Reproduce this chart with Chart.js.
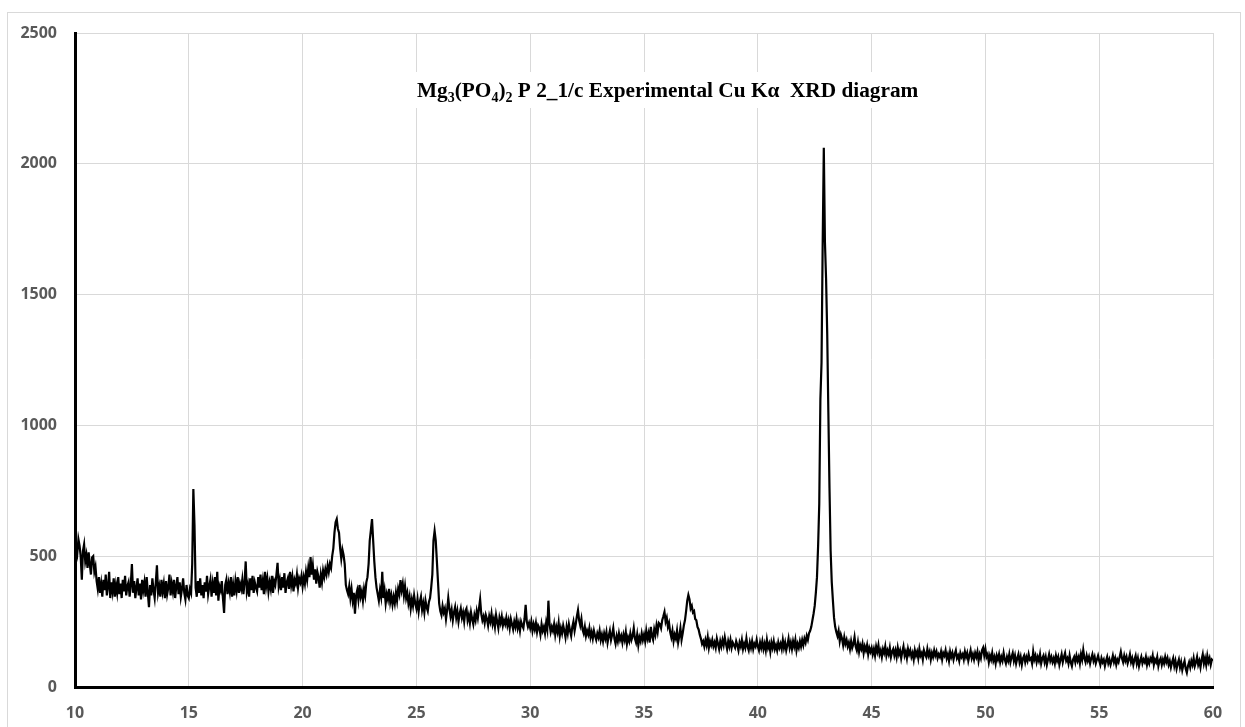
<!DOCTYPE html>
<html>
<head>
<meta charset="utf-8">
<script src="https://cdn.jsdelivr.net/npm/chart.js@4.4.1/dist/chart.umd.min.js"></script>
<style>
  html, body { margin: 0; padding: 0; background: #ffffff; }
  #wrap { width: 1245px; height: 727px; position: relative; }
</style>
</head>
<body>
<div id="wrap"><canvas id="c" width="1245" height="727"></canvas></div>
<script>
// ---- data ----
const xTickValues = [10, 15, 20, 25, 30, 35, 40, 45, 50, 55, 60];
const yTickValues = [0, 500, 1000, 1500, 2000, 2500];
const titleParts = [
  { text: 'Mg' }, { text: '3', sub: true }, { text: '(PO' }, { text: '4', sub: true },
  { text: ')' }, { text: '2', sub: true }, { text: ' P 2_1/c Experimental Cu K\u03B1  XRD diagram' }
];

// 2θ (degrees)
const twoTheta = [
  10,10.05,10.1,10.15,10.2,10.25,10.3,10.35,10.4,10.45,10.5,10.55,10.6,10.65,10.7,10.75,10.8,10.85,10.9,10.95,
  11,11.05,11.1,11.15,11.2,11.25,11.3,11.35,11.4,11.45,11.5,11.55,11.6,11.65,11.7,11.75,11.8,11.85,11.9,11.95,
  12,12.05,12.1,12.15,12.2,12.25,12.3,12.35,12.4,12.45,12.5,12.55,12.6,12.65,12.7,12.75,12.8,12.85,12.9,12.95,
  13,13.05,13.1,13.15,13.2,13.25,13.3,13.35,13.4,13.45,13.5,13.55,13.6,13.65,13.7,13.75,13.8,13.85,13.9,13.95,
  14,14.05,14.1,14.15,14.2,14.25,14.3,14.35,14.4,14.45,14.5,14.55,14.6,14.65,14.7,14.75,14.8,14.85,14.9,14.95,
  15,15.05,15.1,15.15,15.2,15.25,15.3,15.35,15.4,15.45,15.5,15.55,15.6,15.65,15.7,15.75,15.8,15.85,15.9,15.95,
  16,16.05,16.1,16.15,16.2,16.25,16.3,16.35,16.4,16.45,16.5,16.55,16.6,16.65,16.7,16.75,16.8,16.85,16.9,16.95,
  17,17.05,17.1,17.15,17.2,17.25,17.3,17.35,17.4,17.45,17.5,17.55,17.6,17.65,17.7,17.75,17.8,17.85,17.9,17.95,
  18,18.05,18.1,18.15,18.2,18.25,18.3,18.35,18.4,18.45,18.5,18.55,18.6,18.65,18.7,18.75,18.8,18.85,18.9,18.95,
  19,19.05,19.1,19.15,19.2,19.25,19.3,19.35,19.4,19.45,19.5,19.55,19.6,19.65,19.7,19.75,19.8,19.85,19.9,19.95,
  20,20.05,20.1,20.15,20.2,20.25,20.3,20.35,20.4,20.45,20.5,20.55,20.6,20.65,20.7,20.75,20.8,20.85,20.9,20.95,
  21,21.05,21.1,21.15,21.2,21.25,21.3,21.35,21.4,21.45,21.5,21.55,21.6,21.65,21.7,21.75,21.8,21.85,21.9,21.95,
  22,22.05,22.1,22.15,22.2,22.25,22.3,22.35,22.4,22.45,22.5,22.55,22.6,22.65,22.7,22.75,22.8,22.85,22.9,22.95,
  23,23.05,23.1,23.15,23.2,23.25,23.3,23.35,23.4,23.45,23.5,23.55,23.6,23.65,23.7,23.75,23.8,23.85,23.9,23.95,
  24,24.05,24.1,24.15,24.2,24.25,24.3,24.35,24.4,24.45,24.5,24.55,24.6,24.65,24.7,24.75,24.8,24.85,24.9,24.95,
  25,25.05,25.1,25.15,25.2,25.25,25.3,25.35,25.4,25.45,25.5,25.55,25.6,25.65,25.7,25.75,25.8,25.85,25.9,25.95,
  26,26.05,26.1,26.15,26.2,26.25,26.3,26.35,26.4,26.45,26.5,26.55,26.6,26.65,26.7,26.75,26.8,26.85,26.9,26.95,
  27,27.05,27.1,27.15,27.2,27.25,27.3,27.35,27.4,27.45,27.5,27.55,27.6,27.65,27.7,27.75,27.8,27.85,27.9,27.95,
  28,28.05,28.1,28.15,28.2,28.25,28.3,28.35,28.4,28.45,28.5,28.55,28.6,28.65,28.7,28.75,28.8,28.85,28.9,28.95,
  29,29.05,29.1,29.15,29.2,29.25,29.3,29.35,29.4,29.45,29.5,29.55,29.6,29.65,29.7,29.75,29.8,29.85,29.9,29.95,
  30,30.05,30.1,30.15,30.2,30.25,30.3,30.35,30.4,30.45,30.5,30.55,30.6,30.65,30.7,30.75,30.8,30.85,30.9,30.95,
  31,31.05,31.1,31.15,31.2,31.25,31.3,31.35,31.4,31.45,31.5,31.55,31.6,31.65,31.7,31.75,31.8,31.85,31.9,31.95,
  32,32.05,32.1,32.15,32.2,32.25,32.3,32.35,32.4,32.45,32.5,32.55,32.6,32.65,32.7,32.75,32.8,32.85,32.9,32.95,
  33,33.05,33.1,33.15,33.2,33.25,33.3,33.35,33.4,33.45,33.5,33.55,33.6,33.65,33.7,33.75,33.8,33.85,33.9,33.95,
  34,34.05,34.1,34.15,34.2,34.25,34.3,34.35,34.4,34.45,34.5,34.55,34.6,34.65,34.7,34.75,34.8,34.85,34.9,34.95,
  35,35.05,35.1,35.15,35.2,35.25,35.3,35.35,35.4,35.45,35.5,35.55,35.6,35.65,35.7,35.75,35.8,35.85,35.9,35.95,
  36,36.05,36.1,36.15,36.2,36.25,36.3,36.35,36.4,36.45,36.5,36.55,36.6,36.65,36.7,36.75,36.8,36.85,36.9,36.95,
  37,37.05,37.1,37.15,37.2,37.25,37.3,37.35,37.4,37.45,37.5,37.55,37.6,37.65,37.7,37.75,37.8,37.85,37.9,37.95,
  38,38.05,38.1,38.15,38.2,38.25,38.3,38.35,38.4,38.45,38.5,38.55,38.6,38.65,38.7,38.75,38.8,38.85,38.9,38.95,
  39,39.05,39.1,39.15,39.2,39.25,39.3,39.35,39.4,39.45,39.5,39.55,39.6,39.65,39.7,39.75,39.8,39.85,39.9,39.95,
  40,40.05,40.1,40.15,40.2,40.25,40.3,40.35,40.4,40.45,40.5,40.55,40.6,40.65,40.7,40.75,40.8,40.85,40.9,40.95,
  41,41.05,41.1,41.15,41.2,41.25,41.3,41.35,41.4,41.45,41.5,41.55,41.6,41.65,41.7,41.75,41.8,41.85,41.9,41.95,
  42,42.05,42.1,42.15,42.2,42.25,42.3,42.35,42.4,42.45,42.5,42.55,42.6,42.65,42.7,42.75,42.8,42.85,42.9,42.95,
  43,43.05,43.1,43.15,43.2,43.25,43.3,43.35,43.4,43.45,43.5,43.55,43.6,43.65,43.7,43.75,43.8,43.85,43.9,43.95,
  44,44.05,44.1,44.15,44.2,44.25,44.3,44.35,44.4,44.45,44.5,44.55,44.6,44.65,44.7,44.75,44.8,44.85,44.9,44.95,
  45,45.05,45.1,45.15,45.2,45.25,45.3,45.35,45.4,45.45,45.5,45.55,45.6,45.65,45.7,45.75,45.8,45.85,45.9,45.95,
  46,46.05,46.1,46.15,46.2,46.25,46.3,46.35,46.4,46.45,46.5,46.55,46.6,46.65,46.7,46.75,46.8,46.85,46.9,46.95,
  47,47.05,47.1,47.15,47.2,47.25,47.3,47.35,47.4,47.45,47.5,47.55,47.6,47.65,47.7,47.75,47.8,47.85,47.9,47.95,
  48,48.05,48.1,48.15,48.2,48.25,48.3,48.35,48.4,48.45,48.5,48.55,48.6,48.65,48.7,48.75,48.8,48.85,48.9,48.95,
  49,49.05,49.1,49.15,49.2,49.25,49.3,49.35,49.4,49.45,49.5,49.55,49.6,49.65,49.7,49.75,49.8,49.85,49.9,49.95,
  50,50.05,50.1,50.15,50.2,50.25,50.3,50.35,50.4,50.45,50.5,50.55,50.6,50.65,50.7,50.75,50.8,50.85,50.9,50.95,
  51,51.05,51.1,51.15,51.2,51.25,51.3,51.35,51.4,51.45,51.5,51.55,51.6,51.65,51.7,51.75,51.8,51.85,51.9,51.95,
  52,52.05,52.1,52.15,52.2,52.25,52.3,52.35,52.4,52.45,52.5,52.55,52.6,52.65,52.7,52.75,52.8,52.85,52.9,52.95,
  53,53.05,53.1,53.15,53.2,53.25,53.3,53.35,53.4,53.45,53.5,53.55,53.6,53.65,53.7,53.75,53.8,53.85,53.9,53.95,
  54,54.05,54.1,54.15,54.2,54.25,54.3,54.35,54.4,54.45,54.5,54.55,54.6,54.65,54.7,54.75,54.8,54.85,54.9,54.95,
  55,55.05,55.1,55.15,55.2,55.25,55.3,55.35,55.4,55.45,55.5,55.55,55.6,55.65,55.7,55.75,55.8,55.85,55.9,55.95,
  56,56.05,56.1,56.15,56.2,56.25,56.3,56.35,56.4,56.45,56.5,56.55,56.6,56.65,56.7,56.75,56.8,56.85,56.9,56.95,
  57,57.05,57.1,57.15,57.2,57.25,57.3,57.35,57.4,57.45,57.5,57.55,57.6,57.65,57.7,57.75,57.8,57.85,57.9,57.95,
  58,58.05,58.1,58.15,58.2,58.25,58.3,58.35,58.4,58.45,58.5,58.55,58.6,58.65,58.7,58.75,58.8,58.85,58.9,58.95,
  59,59.05,59.1,59.15,59.2,59.25,59.3,59.35,59.4,59.45,59.5,59.55,59.6,59.65,59.7,59.75,59.8,59.85,59.9,59.95,
  60
];

// intensity (counts)
const intensity = [
  560,535,510,565,540,500,410,520,545,480,505,455,515,470,430,495,500,440,460,405,
  375,420,360,395,345,410,370,430,350,385,440,340,400,365,415,345,390,360,420,355,
  395,340,410,365,425,350,385,400,345,390,470,360,405,340,380,415,350,395,335,410,
  370,400,345,420,360,305,390,350,415,370,340,400,465,360,385,345,410,365,395,340,
  405,355,380,430,350,395,365,410,340,385,420,355,400,345,375,415,360,335,390,350,
  340,375,360,470,757,620,380,345,405,360,415,350,390,340,400,365,425,355,385,410,
  345,395,360,420,350,440,330,385,370,405,340,283,390,410,355,395,365,420,345,390,
  350,405,370,420,360,395,375,410,355,400,480,365,390,345,415,370,425,360,400,380,
  365,420,380,430,370,405,355,440,385,415,365,400,375,425,360,405,390,430,475,385,
  410,370,420,380,435,360,400,415,375,440,390,420,365,410,395,430,380,415,400,425,
  385,420,395,440,410,455,420,497,430,465,410,450,395,440,420,380,430,400,445,420,
  450,430,465,440,470,455,500,530,590,630,642,605,590,530,490,525,505,470,390,370,
  355,385,340,375,330,360,280,350,370,335,390,345,365,330,375,350,400,420,470,560,
  600,642,560,480,420,380,355,330,370,345,440,340,370,320,355,335,375,325,350,315,
  345,320,360,330,375,355,409,370,395,350,385,340,360,320,345,300,335,310,350,320,
  300,335,290,325,345,295,320,285,330,305,290,325,340,380,430,560,597,560,480,400,
  320,290,275,310,285,300,260,295,340,300,270,295,255,285,305,265,290,250,280,300,
  265,285,250,290,300,255,275,245,285,260,240,275,255,290,265,300,335,280,255,270,
  245,275,260,235,270,250,280,240,260,230,275,250,225,265,245,270,235,255,240,265,
  235,255,225,260,240,220,250,230,260,225,245,215,250,235,225,260,314,250,230,245,
  225,250,215,240,220,245,210,235,225,200,240,215,230,205,245,220,330,240,210,230,
  215,240,200,230,210,245,195,225,205,235,215,190,230,205,240,215,195,230,250,215,
  240,270,294,255,235,260,220,205,230,195,215,200,225,190,210,185,215,195,180,205,
  190,215,180,200,175,205,185,210,170,195,215,180,200,225,185,165,195,175,205,180,
  195,170,200,180,210,165,190,175,205,180,195,225,185,170,200,160,190,175,205,180,
  200,175,215,185,205,170,230,195,180,220,200,235,210,245,240,225,255,270,287,250,
  265,230,245,210,190,215,175,200,185,215,170,195,225,180,205,235,255,290,330,352,
  335,300,310,285,290,260,255,230,220,200,185,165,175,155,180,160,190,150,175,160,
  180,155,170,150,185,165,145,175,155,180,160,190,165,145,175,155,180,150,170,160,
  150,175,160,140,170,155,180,145,165,150,185,155,140,170,150,175,145,165,155,180,
  155,140,170,150,175,145,165,140,180,150,165,135,170,150,175,145,160,140,170,150,
  165,145,180,150,170,140,160,185,150,170,145,175,155,180,140,165,150,175,155,180,
  160,185,170,195,180,205,215,230,255,280,310,360,420,540,700,1100,1240,1690,2061,1700,
  1560,1350,1050,760,520,400,330,265,230,210,195,215,175,200,185,160,190,165,180,155,
  170,145,175,150,165,191,155,140,170,135,160,145,165,130,155,140,160,125,150,135,
  150,125,145,120,155,135,160,125,140,115,145,130,155,120,140,125,150,115,135,145,
  120,140,115,150,125,140,110,135,155,120,135,110,145,125,140,115,130,105,140,120,
  135,110,145,120,130,105,140,125,115,145,120,135,105,130,115,140,120,135,110,125,
  115,135,105,130,120,140,110,125,100,135,115,130,105,125,140,110,120,100,130,115,
  125,105,135,115,130,100,120,140,110,125,105,130,115,135,100,125,110,140,150,120,
  145,115,125,95,120,105,130,100,115,90,120,105,125,95,115,100,130,105,90,115,
  100,125,95,115,130,100,120,90,110,125,95,115,85,110,120,95,115,100,125,105,
  110,90,135,105,120,95,115,100,125,90,110,120,95,115,85,105,125,100,115,95,
  110,90,120,100,115,85,105,125,95,115,130,100,110,90,120,95,80,105,115,95,
  120,100,115,90,125,105,141,110,95,120,100,115,90,110,125,100,115,90,105,120,
  100,85,110,95,105,80,100,115,90,105,85,100,120,95,110,85,105,95,115,135,
  110,95,120,100,115,90,105,125,95,110,85,105,120,90,110,80,100,115,90,105,
  95,115,85,105,90,110,100,120,85,105,95,115,80,100,110,85,105,90,115,95,
  110,85,100,75,95,110,80,100,70,90,105,75,95,65,85,100,70,55,80,95,
  75,100,85,110,80,95,115,85,100,75,105,125,90,110,85,120,95,110,85,105,
  100
];

// ---- styling ----
const GRID = '#d9d9d9';
const LABEL = '#595959';
const tickFont = { family: "'Open Sans', 'Liberation Sans', sans-serif", size: 16, weight: 'bold' };

const frame = {
  id: 'frame',
  beforeDraw(chart) {
    const ctx = chart.ctx;
    ctx.save();
    ctx.fillStyle = '#ffffff';
    ctx.fillRect(0, 0, chart.width, chart.height);
    ctx.strokeStyle = GRID;
    ctx.lineWidth = 1;
    ctx.strokeRect(7.5, 12.5, 1233, 730);
    ctx.restore();
  }
};

const innerTitle = {
  id: 'innerTitle',
  afterDraw(chart) {
    const ctx = chart.ctx;
    ctx.save();
    const big = "bold 21.3px 'Liberation Serif', 'Times New Roman', serif";
    const small = "bold 14px 'Liberation Serif', 'Times New Roman', serif";
    let w = 0;
    titleParts.forEach(p => { ctx.font = p.sub ? small : big; w += ctx.measureText(p.text).width; });
    const x0 = 417, base = 97;
    ctx.fillStyle = '#ffffff';
    ctx.fillRect(x0 - 8, 72, w + 16, 36);
    ctx.fillStyle = '#000000';
    ctx.textBaseline = 'alphabetic';
    let x = x0;
    titleParts.forEach(p => {
      ctx.font = p.sub ? small : big;
      ctx.fillText(p.text, x, p.sub ? base + 5 : base);
      x += ctx.measureText(p.text).width;
    });
    ctx.restore();
  }
};

new Chart(document.getElementById('c'), {
  type: 'scatter',
  data: {
    datasets: [{
      data: twoTheta.map((x, i) => ({ x: x, y: intensity[i] })),
      showLine: true,
      borderColor: '#000000',
      borderWidth: 2.2,
      pointRadius: 0,
      tension: 0,
      fill: false
    }]
  },
  options: {
    responsive: false,
    animation: false,
    layout: { padding: { top: 33, right: 32, left: 0, bottom: 0 } },
    plugins: { legend: { display: false }, tooltip: { enabled: false }, title: { display: false } },
    scales: {
      x: {
        type: 'linear', min: 10, max: 60,
        afterBuildTicks: s => { s.ticks = xTickValues.map(v => ({ value: v })); },
        afterFit: s => { s.height = 40; },
        grid: { color: GRID, lineWidth: 1, drawTicks: false },
        border: { display: true, color: '#000000', width: 3 },
        ticks: { color: LABEL, font: tickFont, padding: 17, maxRotation: 0, autoSkip: false,
                 callback: v => String(v) }
      },
      y: {
        type: 'linear', min: 0, max: 2500,
        afterBuildTicks: s => { s.ticks = yTickValues.map(v => ({ value: v })); },
        afterFit: s => { s.width = 75; },
        grid: { color: GRID, lineWidth: 1, drawTicks: false },
        border: { display: true, color: '#000000', width: 3 },
        ticks: { color: LABEL, font: tickFont, padding: 18, autoSkip: false,
                 callback: v => String(v) }
      }
    }
  },
  plugins: [frame, innerTitle]
});
</script>
</body>
</html>
